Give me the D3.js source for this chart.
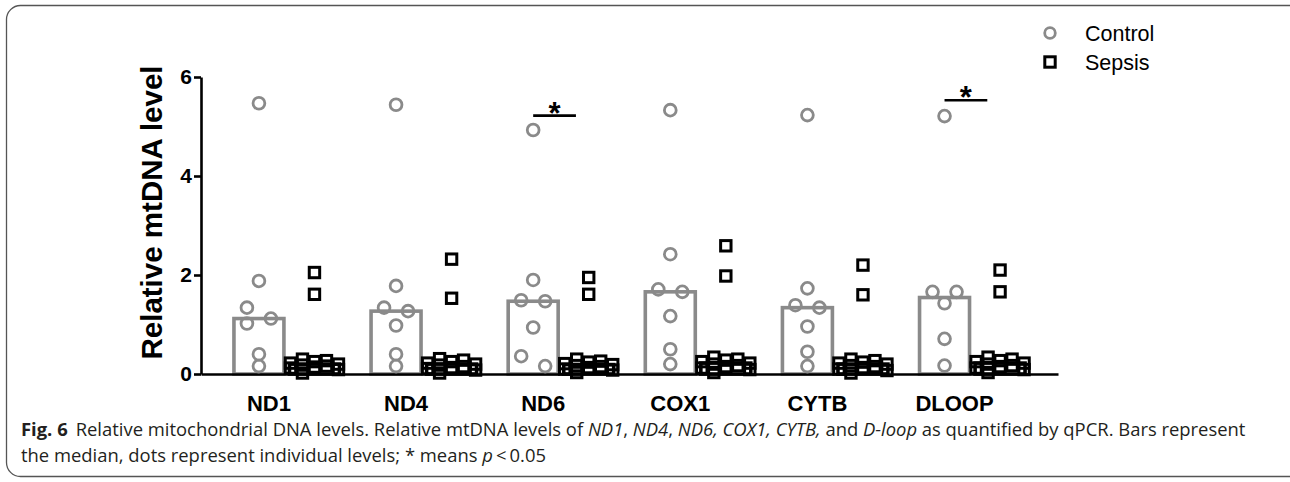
<!DOCTYPE html>
<html>
<head>
<meta charset="utf-8">
<script src="https://cdn.jsdelivr.net/npm/d3@7"></script>
<style>
  body { margin: 0; background: #fff; }
  svg { display: block; }
</style>
</head>
<body>
<section id="grafico"></section>
<script>
// ---- data ----
const genes = ["ND1", "ND4", "ND6", "COX1", "CYTB", "DLOOP"];
const groups = ["Control", "Sepsis"];

const controlValues = [
    [5.47, 1.88, 1.34, 1.12, 1.02, 0.40, 0.16],
    [5.44, 1.78, 1.34, 1.27, 0.98, 0.40, 0.16],
    [4.93, 1.90, 1.49, 1.47, 0.94, 0.36, 0.16],
    [5.33, 2.42, 1.71, 1.66, 1.17, 0.50, 0.20],
    [5.23, 1.73, 1.39, 1.34, 0.96, 0.45, 0.16],
    [5.21, 1.66, 1.66, 1.43, 0.71, 0.17]
];
const sepsisValues = [
    [2.05, 1.61, 0.30, 0.27, 0.25, 0.22, 0.20, 0.18, 0.16, 0.14, 0.12, 0.09, 0.02],
    [2.32, 1.53, 0.31, 0.28, 0.25, 0.22, 0.20, 0.18, 0.15, 0.13, 0.11, 0.08, 0.02],
    [1.95, 1.61, 0.30, 0.26, 0.24, 0.21, 0.19, 0.17, 0.15, 0.13, 0.10, 0.08, 0.03],
    [2.59, 1.98, 0.34, 0.30, 0.28, 0.25, 0.22, 0.20, 0.17, 0.15, 0.12, 0.09, 0.03],
    [2.20, 1.60, 0.30, 0.27, 0.24, 0.22, 0.20, 0.17, 0.15, 0.13, 0.10, 0.07, 0.02],
    [2.10, 1.66, 0.34, 0.30, 0.27, 0.25, 0.22, 0.20, 0.17, 0.15, 0.12, 0.09, 0.03]
];
const yTicks = [0, 2, 4, 6];
const sigGenes = ["ND6", "DLOOP"];
const sigLevels = [5.22, 5.53];

// ---- layout ----
const width = 1290;
const height = 482;
const plotLeft = 201, plotRight = 1058;
const plotTop = 77, plotBottom = 374;
const gray = "#8a8a8a";
const symSize = 11.2;   // marker footprint used for the scatter
const scatterStep = 12;
const circR = 5.9, circW = 2.8;
const sq = 10.4, sqW = 3;

const svg = d3.select("section#grafico")
    .append("svg")
    .attr("width", width)
    .attr("height", height);

// panel frame
svg.append("rect")
    .attr("x", 6.5).attr("y", 5.5)
    .attr("width", 1300).attr("height", 471)
    .attr("rx", 14).attr("ry", 14)
    .attr("fill", "none")
    .attr("stroke", "#555")
    .attr("stroke-width", 1.3);

const xScale = d3.scaleBand()
    .domain(genes)
    .range([plotLeft, plotRight])
    .paddingInner(0.19)
    .paddingOuter(0.22);

const xSub = d3.scaleBand()
    .domain(groups)
    .range([0, xScale.bandwidth()]);

const yScale = d3.scaleLinear()
    .domain([0, 6])
    .range([plotBottom, plotTop]);

// horizontal offsets GraphPad-style: points that touch vertically are spread sideways
function scatterOffsets(values) {
    const order = d3.range(values.length).sort((a, b) => values[b] - values[a]);
    const offs = new Array(values.length).fill(0);
    const runs = [];
    order.forEach((idx, j) => {
        if (j > 0 && Math.abs(yScale(values[idx]) - yScale(values[order[j - 1]])) < symSize) {
            runs[runs.length - 1].push(idx);
        } else {
            runs.push([idx]);
        }
    });
    const cand = [-1, 1, 0, -2, 2].map(k => k * scatterStep);
    runs.forEach(run => {
        if (run.length === 1) return;
        const placed = [];
        run.forEach(idx => {
            const py = yScale(values[idx]);
            let best = null, bestScore = -Infinity;
            for (const c of cand) {
                let hits = 0, minD = Infinity;
                placed.forEach(p => {
                    const dx = Math.abs(p.off - c), dy = Math.abs(p.py - py);
                    if (dx < symSize && dy < symSize) hits++;
                    minD = Math.min(minD, Math.hypot(dx, dy));
                });
                if (hits === 0) { best = c; break; }
                const score = -hits * 1000 + minD;
                if (score > bestScore) { bestScore = score; best = c; }
            }
            offs[idx] = best;
            placed.push({ py, off: best });
        });
    });
    return offs;
}

// ---- y axis ----
const yAxis = d3.axisLeft(yScale)
    .tickValues(yTicks)
    .tickFormat(d3.format("d"))
    .tickSize(7)
    .tickSizeOuter(0)
    .tickPadding(2);

const gy = svg.append("g")
    .attr("transform", `translate(${plotLeft},0)`)
    .call(yAxis);
gy.selectAll("path, line").attr("stroke", "#000").attr("stroke-width", 2.6);
gy.selectAll("text")
    .attr("fill", "#000")
    .style("font-family", "'Liberation Sans', Arial, sans-serif")
    .style("font-size", "21px")
    .style("font-weight", "bold");

svg.append("text")
    .attr("transform", `translate(162,${(65 + 360) / 2}) rotate(-90)`)
    .attr("text-anchor", "middle")
    .style("font-family", "'Liberation Sans', Arial, sans-serif")
    .style("font-size", "29.5px")
    .style("font-weight", "bold")
    .text("Relative mtDNA level");

// ---- bars (median) ----
const barW = xSub.bandwidth() * 0.9;
const rows = [];
genes.forEach((g, i) => {
    rows.push({ gene: g, group: "Control", values: controlValues[i] });
    rows.push({ gene: g, group: "Sepsis", values: sepsisValues[i] });
});
const center = d => xScale(d.gene) + xSub(d.group) + xSub.bandwidth() / 2;

svg.selectAll("rect.svg-bars")
    .data(rows)
    .enter()
    .append("rect")
    .attr("class", "svg-bars")
    .attr("x", d => center(d) - barW / 2)
    .attr("y", d => yScale(d3.median(d.values)))
    .attr("width", barW)
    .attr("height", d => plotBottom - yScale(d3.median(d.values)))
    .attr("fill", "none")
    .attr("stroke", d => d.group === "Control" ? gray : "#000")
    .attr("stroke-width", 3.6);

// ---- x axis ----
const xAxis = d3.axisBottom(xScale).tickSize(0).tickSizeOuter(0).tickPadding(0);
const gx = svg.append("g")
    .attr("transform", `translate(0,${plotBottom})`)
    .call(xAxis);
gx.select("path").attr("stroke", "#000").attr("stroke-width", 2.6);
gx.selectAll("text")
    .attr("y", 37)
    .attr("dy", 0)
    .attr("dx", -xScale.bandwidth() / 4 + 10)
    .attr("fill", "#000")
    .style("font-family", "'Liberation Sans', Arial, sans-serif")
    .style("font-size", "22px")
    .style("font-weight", "bold");

// ---- points ----
const points = [];
rows.forEach(r => {
    const offs = scatterOffsets(r.values);
    r.values.forEach((v, k) => points.push({ gene: r.gene, group: r.group, v, off: offs[k] }));
});

svg.selectAll("circle.pt")
    .data(points.filter(p => p.group === "Control"))
    .enter()
    .append("circle")
    .attr("class", "pt")
    .attr("cx", d => center(d) + d.off)
    .attr("cy", d => yScale(d.v))
    .attr("r", circR)
    .attr("fill", "none")
    .attr("stroke", gray)
    .attr("stroke-width", circW);

svg.selectAll("rect.pt")
    .data(points.filter(p => p.group === "Sepsis"))
    .enter()
    .append("rect")
    .attr("class", "pt")
    .attr("x", d => center(d) + d.off - sq / 2)
    .attr("y", d => yScale(d.v) - sq / 2)
    .attr("width", sq)
    .attr("height", sq)
    .attr("fill", "none")
    .attr("stroke", "#000")
    .attr("stroke-width", sqW);

// ---- significance marks ----
sigGenes.forEach((g, i) => {
    const x0 = xScale(g) + xSub("Control") + xSub.bandwidth() / 2;
    const x1 = x0 + xSub.bandwidth() * 0.77;
    const yy = yScale(sigLevels[i]);
    svg.append("line")
        .attr("x1", x0).attr("x2", x1)
        .attr("y1", yy).attr("y2", yy)
        .attr("stroke", "#000")
        .attr("stroke-width", 2.6);
    svg.append("text")
        .attr("x", (x0 + x1) / 2)
        .attr("y", yy + 8)
        .attr("text-anchor", "middle")
        .style("font-family", "'Liberation Sans', Arial, sans-serif")
        .style("font-size", "31px")
        .style("font-weight", "bold")
        .text("*");
});

// ---- legend ----
const legend = svg.append("g").attr("transform", "translate(1050,33)");
groups.forEach((g, i) => {
    const row = legend.append("g").attr("transform", `translate(0,${i * 29})`);
    if (g === "Control") {
        row.append("circle").attr("r", circR - 0.6).attr("fill", "none")
            .attr("stroke", gray).attr("stroke-width", circW);
    } else {
        row.append("rect").attr("x", -sq / 2).attr("y", -sq / 2)
            .attr("width", sq).attr("height", sq).attr("fill", "none")
            .attr("stroke", "#000").attr("stroke-width", sqW);
    }
    row.append("text")
        .attr("x", 35)
        .attr("y", 7.5)
        .style("font-family", "'Liberation Sans', Arial, sans-serif")
        .style("font-size", "21.5px")
        .text(g);
});

// ---- caption ----
const capLines = [
    [["Fig. 6", "b"], ["Relative mitochondrial DNA levels. Relative mtDNA levels of ", "n", 8],
     ["ND1", "i"], [", ", "n"], ["ND4", "i"], [", ", "n"], ["ND6, COX1, CYTB,", "i"],
     [" and ", "n"], ["D-loop", "i"], [" as quantified by qPCR. Bars represent", "n"]],
    [["the median, dots represent individual levels; * means ", "n"], ["p", "i"],
     ["\u2009<\u20090.05", "n"]]
];
const capBase = [436, 462];
const caps = capLines.map((parts, li) => {
    const t = svg.append("text")
        .attr("x", 21)
        .attr("y", capBase[li])
        .attr("fill", "#231f20")
        .style("font-family", "'Open Sans', sans-serif")
        .style("font-size", "16px");
    parts.forEach(p => {
        const ts = t.append("tspan").text(p[0]);
        if (p[1] === "b") ts.style("font-weight", "bold");
        if (p[1] === "i") ts.style("font-style", "italic");
        if (p[2]) ts.attr("dx", p[2]);
    });
    return t;
});
// fit first line to the printed width
const w1 = caps[0].node().getComputedTextLength();
const fs = 16 * 1217 / w1;
caps.forEach(t => t.style("font-size", fs + "px"));
</script>
</body>
</html>
